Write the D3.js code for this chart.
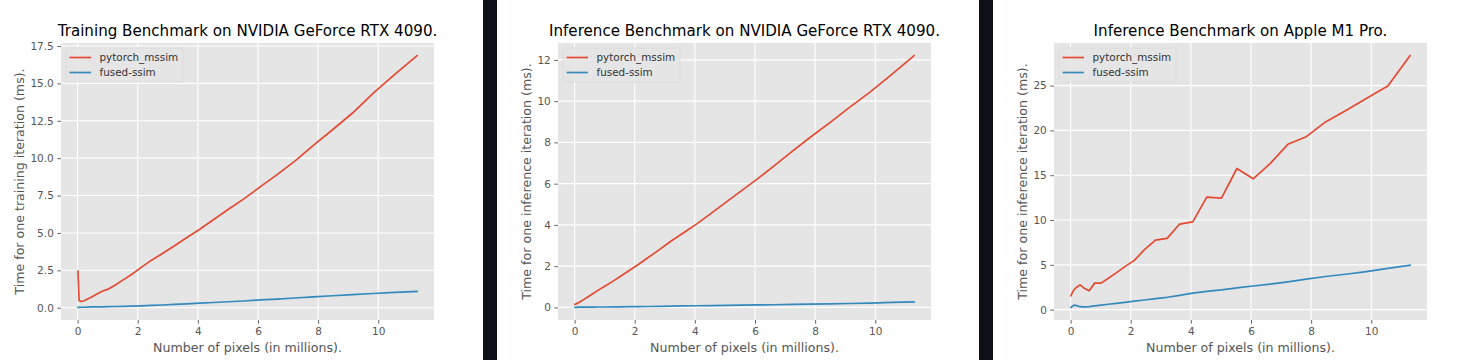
<!DOCTYPE html>
<html>
<head>
<meta charset="utf-8">
<script src="https://cdn.jsdelivr.net/npm/d3@7"></script>
<style>
  html, body { margin: 0; padding: 0; background: #ffffff; }
  svg { display: block; font-family: "DejaVu Sans", sans-serif; }
</style>
</head>
<body>
<svg id="chart" width="1477" height="360"></svg>
<script>
// ---------------- DATA ----------------
// Number of pixels (in millions) for each benchmarked image size
const pixelsMillions = [0.0125, 0.0502, 0.1129, 0.2007, 0.3136, 0.4516, 0.6147, 0.8028, 1.0161, 1.2544,
  1.5178, 1.8063, 2.1199, 2.4586, 2.8224, 3.2113, 3.6252, 4.0643, 4.5284, 5.0176,
  5.5319, 6.0713, 6.6357, 7.2253, 7.8400, 8.4797, 9.1445, 9.8345, 10.5494, 11.2896];

const seriesNames = ["pytorch_mssim", "fused-ssim"];

// Training, NVIDIA GeForce RTX 4090 (ms)
const trainTorch = [2.45, 0.48, 0.42, 0.45, 0.56, 0.70, 0.88, 1.08, 1.24, 1.52,
  1.86, 2.24, 2.70, 3.18, 3.62, 4.13, 4.68, 5.25, 5.90, 6.58,
  7.28, 8.08, 8.90, 9.80, 10.85, 11.90, 13.02, 14.35, 15.60, 16.86];
const trainFused = [0.02, 0.02, 0.03, 0.03, 0.04, 0.05, 0.05, 0.06, 0.07, 0.08,
  0.09, 0.10, 0.12, 0.15, 0.18, 0.22, 0.26, 0.30, 0.35, 0.40,
  0.45, 0.52, 0.58, 0.65, 0.73, 0.80, 0.87, 0.95, 1.02, 1.09];

// Inference, NVIDIA GeForce RTX 4090 (ms)
const inferTorch = [0.15, 0.17, 0.21, 0.29, 0.39, 0.52, 0.67, 0.85, 1.04, 1.25,
  1.50, 1.78, 2.08, 2.43, 2.80, 3.22, 3.62, 4.05, 4.55, 5.08,
  5.64, 6.22, 6.86, 7.55, 8.25, 8.95, 9.70, 10.45, 11.30, 12.21];
const inferFused = [0.00, 0.00, 0.01, 0.01, 0.01, 0.01, 0.015, 0.02, 0.02, 0.025,
  0.03, 0.035, 0.04, 0.045, 0.05, 0.06, 0.07, 0.08, 0.09, 0.10,
  0.11, 0.12, 0.13, 0.15, 0.16, 0.17, 0.19, 0.21, 0.24, 0.27];

// Inference, Apple M1 Pro (ms)
const m1Torch = [1.55, 1.85, 2.20, 2.50, 2.77, 2.40, 2.10, 2.96, 2.96, 3.50,
  4.10, 4.80, 5.50, 6.70, 7.75, 7.95, 9.55, 9.80, 12.55, 12.45,
  15.75, 14.60, 16.30, 18.45, 19.30, 20.95, 22.20, 23.55, 24.95, 28.35];
const m1Fused = [0.25, 0.35, 0.50, 0.45, 0.33, 0.30, 0.33, 0.42, 0.50, 0.60,
  0.70, 0.82, 0.95, 1.08, 1.22, 1.38, 1.60, 1.85, 2.03, 2.20,
  2.42, 2.64, 2.85, 3.10, 3.40, 3.70, 3.95, 4.25, 4.60, 4.95];

// Tick values / labels
const xTicks = [0, 2, 4, 6, 8, 10];
const xTickLabels = ["0", "2", "4", "6", "8", "10"];
const trainYTicks = [0, 2.5, 5, 7.5, 10, 12.5, 15, 17.5];
const trainYTickLabels = ["0.0", "2.5", "5.0", "7.5", "10.0", "12.5", "15.0", "17.5"];
const inferYTicks = [0, 2, 4, 6, 8, 10, 12];
const inferYTickLabels = ["0", "2", "4", "6", "8", "10", "12"];
const m1YTicks = [0, 5, 10, 15, 20, 25];
const m1YTickLabels = ["0", "5", "10", "15", "20", "25"];

// Text
const titles = ["Training Benchmark on NVIDIA GeForce RTX 4090.",
  "Inference Benchmark on NVIDIA GeForce RTX 4090.",
  "Inference Benchmark on Apple M1 Pro."];
const yLabels = ["Time for one training iteration (ms).",
  "Time for one inference iteration (ms).",
  "Time for one inference iteration (ms)."];
const xLabel = "Number of pixels (in millions).";

// ---------------- STYLE / LAYOUT ----------------
const colors = ["#E24A33", "#348ABD"];
const panelX = [0, 497, 993];
const separators = [[483, 497], [979, 993]];
const plotOffset = 61, plotW = 373, plotTop = 43, plotBottom = 320;
const tickFont = 10.5, labelFont = 12.6, titleFont = 15.1, legendFont = 10.4;
const tickLen = 3.7, tickPad = 3.5;

const svg = d3.select("#chart");
svg.append("rect").attr("width", 1477).attr("height", 360).attr("fill", "#ffffff");

separators.forEach(([a, b]) => {
  svg.append("rect").attr("x", a).attr("y", 0).attr("width", b - a).attr("height", 360).attr("fill", "#0d1117");
});

function extentPad(arrs) {
  const all = arrs.flat();
  const lo = d3.min(all), hi = d3.max(all);
  const p = (hi - lo) * 0.05;
  return [lo - p, hi + p];
}

const panels = [
  { ys: [trainTorch, trainFused], yTicks: trainYTicks, yTickLabels: trainYTickLabels },
  { ys: [inferTorch, inferFused], yTicks: inferYTicks, yTickLabels: inferYTickLabels },
  { ys: [m1Torch, m1Fused], yTicks: m1YTicks, yTickLabels: m1YTickLabels }
];

panels.forEach((p, i) => {
  const left = panelX[i] + plotOffset;
  const right = left + plotW;
  const x = d3.scaleLinear().domain(extentPad([pixelsMillions])).range([left, right]);
  const y = d3.scaleLinear().domain(extentPad(p.ys)).range([plotBottom, plotTop]);

  const g = svg.append("g");
  // background
  g.append("rect").attr("x", left).attr("y", plotTop).attr("width", plotW)
    .attr("height", plotBottom - plotTop).attr("fill", "#E5E5E5");
  // grid
  g.selectAll(".gx").data(xTicks).join("line")
    .attr("x1", d => x(d)).attr("x2", d => x(d)).attr("y1", plotTop).attr("y2", plotBottom)
    .attr("stroke", "#ffffff").attr("stroke-width", 1.1);
  g.selectAll(".gy").data(p.yTicks).join("line")
    .attr("y1", d => y(d)).attr("y2", d => y(d)).attr("x1", left).attr("x2", right)
    .attr("stroke", "#ffffff").attr("stroke-width", 1.1);

  // axes
  const xAxis = d3.axisBottom(x).tickValues(xTicks)
    .tickFormat((d, j) => xTickLabels[j]).tickSize(tickLen).tickPadding(tickPad);
  const gx = g.append("g").attr("transform", `translate(0,${plotBottom})`).call(xAxis);
  const yAxis = d3.axisLeft(y).tickValues(p.yTicks)
    .tickFormat((d, j) => p.yTickLabels[j]).tickSize(tickLen).tickPadding(tickPad);
  const gy = g.append("g").attr("transform", `translate(${left},0)`).call(yAxis);
  [gx, gy].forEach(ax => {
    ax.select(".domain").remove();
    ax.selectAll(".tick line").attr("stroke", "#555555").attr("stroke-width", 0.9);
    ax.selectAll(".tick text").attr("fill", "#555555")
      .attr("font-size", tickFont).attr("font-family", "DejaVu Sans");
  });

  // lines
  p.ys.forEach((vals, s) => {
    const line = d3.line().x((d, j) => x(pixelsMillions[j])).y(d => y(d));
    g.append("path").datum(vals).attr("d", line).attr("fill", "none")
      .attr("stroke", colors[s]).attr("stroke-width", 1.7)
      .attr("stroke-linejoin", "round").attr("stroke-linecap", "square");
  });

  // legend
  const lg = g.append("g");
  const lx = left + 5, ly = plotTop + 5;
  lg.append("rect").attr("x", lx).attr("y", ly).attr("width", 117).attr("height", 34)
    .attr("rx", 2).attr("fill", "#E5E5E5").attr("fill-opacity", 0.8)
    .attr("stroke", "#dadada").attr("stroke-width", 0.8);
  seriesNames.forEach((nm, s) => {
    const cy = ly + 9.5 + s * 15;
    lg.append("line").attr("x1", lx + 3.5).attr("x2", lx + 25).attr("y1", cy).attr("y2", cy)
      .attr("stroke", colors[s]).attr("stroke-width", 1.7);
    lg.append("text").attr("x", lx + 33.5).attr("y", cy).attr("dy", "0.36em")
      .attr("font-size", legendFont).attr("fill", "#333333").text(nm);
  });

  // title
  g.append("text").attr("x", (left + right) / 2).attr("y", 36).attr("text-anchor", "middle")
    .attr("font-size", titleFont).attr("fill", "#000000").text(titles[i]);

  // x label
  g.append("text").attr("x", (left + right) / 2).attr("y", 351.5).attr("text-anchor", "middle")
    .attr("font-size", labelFont).attr("fill", "#555555").text(xLabel);

  // y label placed left of tick labels (bbox is local to the translated axis group)
  const bb = gy.node().getBBox();
  const bx = left + bb.x - 3.5 - 0.24 * labelFont;
  g.append("text").attr("transform", `translate(${bx},${(plotTop + plotBottom) / 2}) rotate(-90)`)
    .attr("text-anchor", "middle").attr("font-size", labelFont).attr("fill", "#555555")
    .text(yLabels[i]);
});
</script>
</body>
</html>
